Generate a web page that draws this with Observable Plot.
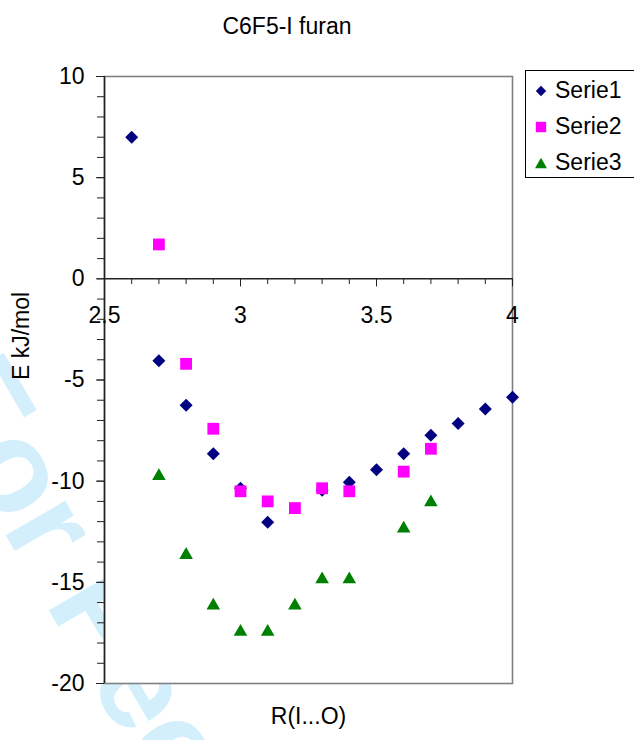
<!DOCTYPE html>
<html>
<head>
<meta charset="utf-8">
<script src="https://cdn.jsdelivr.net/npm/d3@7"></script>
<script src="https://cdn.jsdelivr.net/npm/@observablehq/plot@0.6"></script>
<style>
  html, body { margin: 0; padding: 0; background: #fff; }
  #wrap { position: relative; width: 634px; height: 740px; overflow: hidden; font-family: "Liberation Sans", Arial, sans-serif; color: #000; }
  #watermark { position: absolute; left: 17px; top: 335px; font: bold 130px "Liberation Sans", Arial, sans-serif; line-height: 1; color: #d3effc; white-space: nowrap; transform-origin: 0 0; transform: rotate(60deg); }
  #chart { position: absolute; left: 0; top: 0; }
  #title { position: absolute; left: 0; top: 15px; width: 574px; text-align: center; font-size: 23px; line-height: 23px; }
  #legend { position: absolute; left: 525px; top: 70px; width: 130px; height: 108px; box-sizing: border-box; border: 1px solid #000; background: #fff; }
  .item { position: absolute; left: 0; height: 23px; font-size: 23px; line-height: 23px; white-space: nowrap; }
  .item svg { position: absolute; left: 6px; top: 3px; }
  .item span { position: absolute; left: 29px; top: 0; }
</style>
</head>
<body>
<div id="wrap">
  <div id="watermark">For Peer Review</div>
  <div id="chart"></div>
  <div id="title"></div>
  <div id="legend"></div>
</div>
<script>
// ---- data ----
const title = "C6F5-I furan";
const xLabel = "R(I...O)";
const yLabel = "E kJ/mol";
const seriesNames = ["Serie1", "Serie2", "Serie3"];
const seriesColors = ["#000080", "#FF00FF", "#008000"];

const r1 = [2.6, 2.7, 2.8, 2.9, 3.0, 3.1, 3.3, 3.4, 3.5, 3.6, 3.7, 3.8, 3.9, 4.0];
const serie1 = [7.0, -4.05, -6.25, -8.64, -10.35, -12.03, -10.45, -10.05, -9.43, -8.64, -7.73, -7.15, -6.43, -5.85];

const r2 = [2.7, 2.8, 2.9, 3.0, 3.1, 3.2, 3.3, 3.4, 3.6, 3.7];
const serie2 = [1.7, -4.2, -7.41, -10.5, -11.0, -11.33, -10.35, -10.5, -9.53, -8.4];

const r3 = [2.7, 2.8, 2.9, 3.0, 3.1, 3.2, 3.3, 3.4, 3.6, 3.7];
const serie3 = [-9.65, -13.55, -16.05, -17.35, -17.35, -16.05, -14.75, -14.75, -12.25, -10.95];

const xTicks = [2.5, 3, 3.5, 4];
const xMinorTicks = [2.5, 2.6, 2.7, 2.8, 2.9, 3.0, 3.1, 3.2, 3.3, 3.4, 3.5, 3.6, 3.7, 3.8, 3.9, 4.0];
const yTicks = [-20, -15, -10, -5, 0, 5, 10];
const yMinorTicks = d3.range(-20, 11, 1);

// ---- symbols ----
const diamond = { draw(ctx, size) { const h = Math.sqrt(size / Math.PI); ctx.moveTo(0, -h); ctx.lineTo(h, 0); ctx.lineTo(0, h); ctx.lineTo(-h, 0); ctx.closePath(); } };
const square = { draw(ctx, size) { const h = Math.sqrt(size / Math.PI); ctx.rect(-h, -h, 2 * h, 2 * h); } };
const triangle = { draw(ctx, size) { const h = Math.sqrt(size / Math.PI); ctx.moveTo(0, -h); ctx.lineTo(1.15 * h, h); ctx.lineTo(-1.15 * h, h); ctx.closePath(); } };
const symbols = [diamond, square, triangle];

const d1 = r1.map((x, i) => ({x, y: serie1[i]}));
const d2 = r2.map((x, i) => ({x, y: serie2[i]}));
const d3s = r3.map((x, i) => ({x, y: serie3[i]}));

const axisInk = "#222";

const chart = Plot.plot({
  width: 634,
  height: 740,
  marginLeft: 104,
  marginRight: 122,
  marginTop: 76,
  marginBottom: 57,
  style: { background: "transparent", fontFamily: "Liberation Sans, Arial, sans-serif", fontSize: "23px", color: "#000" },
  x: { domain: [2.5, 4], axis: null },
  y: { domain: [-20, 10], axis: null },
  marks: [
    Plot.frame({ fill: "white", stroke: "#808080", strokeWidth: 1.6 }),
    Plot.axisY({ ticks: yMinorTicks, tickSize: 7, tickFormat: () => "", stroke: axisInk, label: null }),
    Plot.axisY({ ticks: yTicks, tickSize: 8, tickPadding: 12, tickFormat: d => String(d), stroke: axisInk, fill: "#000", fontSize: 23, label: null }),
    Plot.ruleX([2.5], { stroke: axisInk, strokeWidth: 1.5 }),
    Plot.ruleY([0], { stroke: axisInk, strokeWidth: 1.5 }),
    Plot.ruleX(xMinorTicks, { x: d => d, y1: 0, y2: -0.28, stroke: axisInk }),
    Plot.ruleX(xTicks, { x: d => d, y1: 0, y2: -0.4, stroke: axisInk }),
    Plot.text(xTicks, { x: d => d, y: 0, text: d => String(d), dy: 37, fontSize: 23, fill: "#000" }),
    Plot.text([xLabel], { frameAnchor: "bottom", dy: 40, fontSize: 23, fill: "#000" }),
    Plot.text([yLabel], { frameAnchor: "left", dx: -83, rotate: -90, fontSize: 23, fill: "#000" }),
    Plot.dot(d1, { x: "x", y: "y", symbol: diamond, r: 6.5, fill: seriesColors[0], stroke: "none" }),
    Plot.dot(d2, { x: "x", y: "y", symbol: square, r: 5.9, fill: seriesColors[1], stroke: "none" }),
    Plot.dot(d3s, { x: "x", y: "y", symbol: triangle, r: 5.9, fill: seriesColors[2], stroke: "none" })
  ]
});
document.getElementById("chart").appendChild(chart);
document.getElementById("title").textContent = title;

// ---- legend ----
const legend = document.getElementById("legend");
seriesNames.forEach((name, i) => {
  const item = document.createElement("div");
  item.className = "item";
  item.style.top = (8 + 36 * i) + "px";
  const svg = d3.create("svg").attr("width", 18).attr("height", 18);
  const path = d3.path();
  symbols[i].draw(path, Math.PI * 5.2 * 5.2);
  svg.append("path").attr("transform", "translate(9,9)").attr("d", path.toString()).attr("fill", seriesColors[i]);
  item.appendChild(svg.node());
  const span = document.createElement("span");
  span.textContent = name;
  item.appendChild(span);
  legend.appendChild(item);
});
</script>
</body>
</html>
